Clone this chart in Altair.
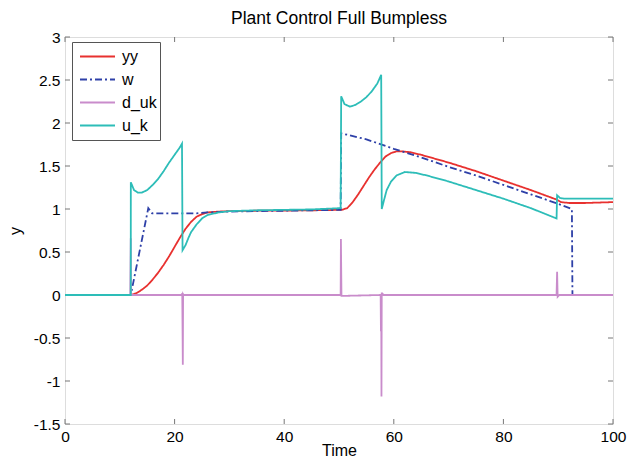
import altair as alt
import pandas as pd

# ---- data ----
yy_t = [0, 12, 13, 14, 15, 16, 17, 18, 19, 20, 21, 22, 23, 24, 25, 26, 28, 30, 35, 40, 45, 50.5,
        51.5, 52.5, 53.5, 54.5, 55.5, 56.5, 57.5, 58.5, 59.5, 60.5, 61.5, 63, 65, 70, 75, 80, 85,
        89.7, 90.5, 92, 95, 100]
yy_v = [0, 0, 0.02, 0.06, 0.11, 0.18, 0.26, 0.35, 0.45, 0.56, 0.67, 0.77, 0.85, 0.91, 0.94, 0.96,
        0.97, 0.975, 0.98, 0.982, 0.985, 0.99, 1.01, 1.08, 1.17, 1.27, 1.37, 1.46, 1.54, 1.61, 1.65,
        1.67, 1.67, 1.66, 1.63, 1.54, 1.44, 1.33, 1.22, 1.11, 1.08, 1.07, 1.07, 1.08]

w_t = [0, 12, 15.2, 15.9, 20, 24, 26, 30, 40, 50.3, 50.4, 55, 60, 65, 70, 75, 80, 85, 90, 92.5,
       92.6, 100]
w_v = [0, 0, 1.01, 0.95, 0.95, 0.95, 0.96, 0.97, 0.98, 0.99, 1.88, 1.81, 1.70, 1.60, 1.49, 1.39,
       1.28, 1.17, 1.06, 1.0, 0, 0]

d_t = [0, 11.9, 12, 12.05, 12.15, 21.3, 21.4, 21.5, 21.55, 21.65, 22, 50.3, 50.35, 50.45, 50.55,
       51, 57.6, 57.65, 57.7, 57.75, 57.8, 57.9, 58.1, 58.5, 89.7, 89.8, 89.9, 90.2, 90.5, 100]
d_v = [0, 0, 0.66, 0, 0, 0, 0.02, -0.81, 0.01, 0, 0, 0, 0.65, -0.01, -0.01, -0.01, 0, -0.42, 0,
       -1.18, 0.02, 0.02, 0, 0, 0, 0.27, -0.02, 0, 0, 0]

u_t = [0, 12, 12.01, 12.6, 13.3, 14, 15, 16, 17, 18, 19, 20, 21, 21.35, 21.45, 22, 22.5, 23, 24,
       25, 26, 28, 30, 35, 40, 45, 50.3, 50.4, 51, 52, 53, 54, 55, 56, 57, 57.7, 57.8, 58.2, 58.7,
       59.5, 60.5, 62, 64, 66, 70, 75, 80, 85, 89.7, 89.8, 90.3, 91, 95, 100]
u_v = [0, 0, 1.31, 1.22, 1.19, 1.19, 1.22, 1.28, 1.35, 1.44, 1.54, 1.63, 1.72, 1.76, 0.52, 0.58,
       0.66, 0.73, 0.82, 0.89, 0.93, 0.96, 0.975, 0.985, 0.99, 0.995, 1.01, 2.31, 2.22, 2.19, 2.21,
       2.25, 2.30, 2.37, 2.46, 2.56, 1.0, 1.1, 1.22, 1.32, 1.39, 1.43, 1.42, 1.39, 1.32, 1.22, 1.12,
       1.01, 0.89, 1.16, 1.13, 1.12, 1.12, 1.12]

series = ["yy", "w", "d_uk", "u_k"]
colors = ["#E8312F", "#2E40A8", "#C98CCB", "#2DBDB8"]
dashes = [[1, 0], [7, 3, 2, 3], [1, 0], [1, 0]]

x_ticks = [0, 20, 40, 60, 80, 100]
y_ticks = [-1.5, -1, -0.5, 0, 0.5, 1, 1.5, 2, 2.5, 3]

W, H = 548, 387

frames = []
for name, t, v in [("yy", yy_t, yy_v), ("w", w_t, w_v), ("d_uk", d_t, d_v), ("u_k", u_t, u_v)]:
    frames.append(pd.DataFrame({"t": t, "v": v, "series": name, "i": range(len(t))}))

xs = alt.Scale(domain=[0, 100], nice=False, zero=False)
ys = alt.Scale(domain=[-1.5, 3], nice=False, zero=False)

xaxis = alt.Axis(values=x_ticks, ticks=False, domain=False, grid=False, labelFont="Liberation Sans",
                 labelFontSize=15.5, labelColor="#000", labelPadding=5, title="Time",
                 labelExpr="'' + datum.value",
                 titleFont="Liberation Sans", titleFontSize=16, titleFontWeight="normal",
                 titleColor="#000", titleY=31, titleBaseline="alphabetic",
                 labelFlush=False, labelOverlap=False)
yaxis = alt.Axis(values=y_ticks, ticks=False, domain=False, grid=False, labelFont="Liberation Sans",
                 labelFontSize=15.5, labelColor="#000", labelPadding=5, title="y",
                 labelExpr="'' + datum.value",
                 titleFont="Liberation Sans", titleFontSize=16, titleFontWeight="normal",
                 titleColor="#000", titlePadding=10, labelFlush=False, labelOverlap=False)

leg = alt.Legend(title=None, orient="none", legendX=7, legendY=5,
                 symbolType="stroke", symbolSize=1225, symbolStrokeWidth=1.8,
                 clipHeight=23, rowPadding=0, padding=3, symbolOffset=4,
                 labelOffset=6, labelFont="Liberation Sans", labelFontSize=16,
                 labelColor="#000", strokeColor="#555", fillColor="white")
color = alt.Color("series:N", scale=alt.Scale(domain=series, range=colors), legend=leg)
dash = alt.StrokeDash("series:N", scale=alt.Scale(domain=series, range=dashes), legend=leg)

layers = []
for k, df in enumerate(frames):
    enc = dict(x=alt.X("t:Q", scale=xs, axis=xaxis),
               y=alt.Y("v:Q", scale=ys, axis=yaxis),
               color=color, strokeDash=dash, order="i:Q")
    layers.append(alt.Chart(df).mark_line(strokeWidth=1.8, clip=True).encode(**enc))

xt = pd.DataFrame({"xt": x_ticks})
yt = pd.DataFrame({"yt": y_ticks})
tick_color = "#777"
xb = alt.Chart(xt).mark_rule(color=tick_color, strokeWidth=1).encode(
    x=alt.X("xt:Q", scale=xs, axis=xaxis), y=alt.value(H), y2=alt.value(H - 5))
xtop = alt.Chart(xt).mark_rule(color=tick_color, strokeWidth=1).encode(
    x=alt.X("xt:Q", scale=xs, axis=xaxis), y=alt.value(0), y2=alt.value(5))
yl = alt.Chart(yt).mark_rule(color=tick_color, strokeWidth=1).encode(
    y=alt.Y("yt:Q", scale=ys, axis=yaxis), x=alt.value(0), x2=alt.value(5))
yr = alt.Chart(yt).mark_rule(color=tick_color, strokeWidth=1).encode(
    y=alt.Y("yt:Q", scale=ys, axis=yaxis), x=alt.value(W), x2=alt.value(W - 5))

chart = alt.layer(xb, xtop, yl, yr, *layers).properties(
    width=W, height=H,
    title=alt.TitleParams("Plant Control Full Bumpless", font="Liberation Sans", fontSize=17.5,
                          fontWeight="normal", color="#000", offset=3, anchor="middle",
                          frame="group"),
    autosize=alt.AutoSizeParams(type="none"),
    padding={"left": 57, "top": 29, "right": 18, "bottom": 34},
).configure_view(stroke="#555", strokeWidth=1).configure(background="white")

chart.save("out.html", embed_options={"renderer": "svg", "actions": False})
